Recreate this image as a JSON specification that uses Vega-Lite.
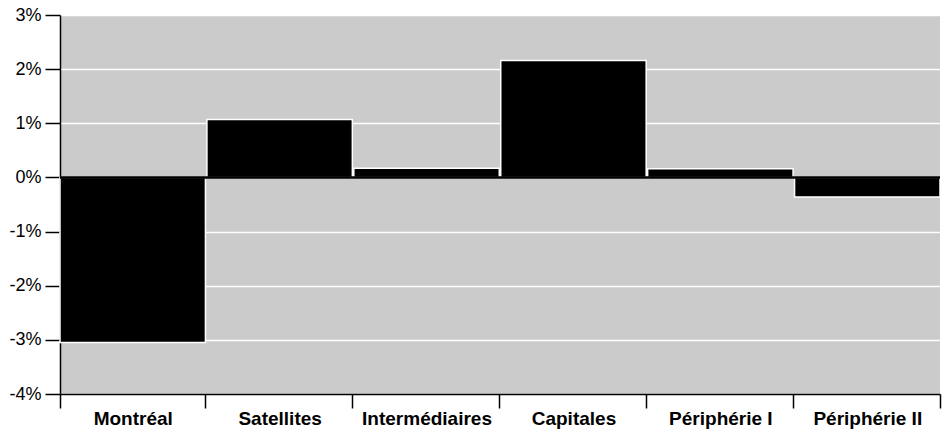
{
  "$schema": "https://vega.github.io/schema/vega-lite/v6.json",
  "width": 880,
  "height": 379,
  "autosize": "none",
  "padding": {"left": 60, "top": 15, "right": 2, "bottom": 35},
  "background": "white",
  "config": {
    "view": {"fill": "#cbcbcb", "stroke": null},
    "font": "Liberation Sans"
  },
  "data": {
    "values": [
      {"region": "Montréal", "value": -3.05},
      {"region": "Satellites", "value": 1.07},
      {"region": "Intermédiaires", "value": 0.17},
      {"region": "Capitales", "value": 2.16},
      {"region": "Périphérie I", "value": 0.16},
      {"region": "Périphérie II", "value": -0.36}
    ]
  },
  "layer": [
    {
      "mark": {"type": "bar", "fill": "black", "stroke": "white", "strokeWidth": 1.5},
      "encoding": {
        "x": {
          "field": "region", "type": "nominal", "sort": null,
          "scale": {"paddingInner": 0.01, "paddingOuter": 0},
          "axis": {
            "title": null, "labelAngle": 0, "labelFontWeight": "bold", "labelFontSize": 19,
            "labelColor": "black", "tickBand": "extent", "tickColor": "black", "tickSize": 14,
            "tickWidth": 1.5, "domainColor": "black", "domainWidth": 1.5, "labelPadding": 1, "grid": false
          }
        },
        "y": {
          "field": "value", "type": "quantitative",
          "scale": {"domain": [-4, 3], "nice": false},
          "axis": {
            "title": null, "values": [-4, -3, -2, -1, 0, 1, 2, 3],
            "labelExpr": "datum.value + '%'", "labelFontSize": 18, "labelColor": "black",
            "tickColor": "black", "tickSize": 15, "tickWidth": 1.5, "domainColor": "black", "domainWidth": 1.5,
            "grid": true, "gridColor": "white", "gridWidth": 1.5, "labelPadding": 4
          }
        }
      }
    },
    {
      "mark": {"type": "rule", "color": "black", "strokeWidth": 2.5},
      "data": {"values": [{"zero": 0}]},
      "encoding": {"y": {"field": "zero", "type": "quantitative"}}
    }
  ]
}
